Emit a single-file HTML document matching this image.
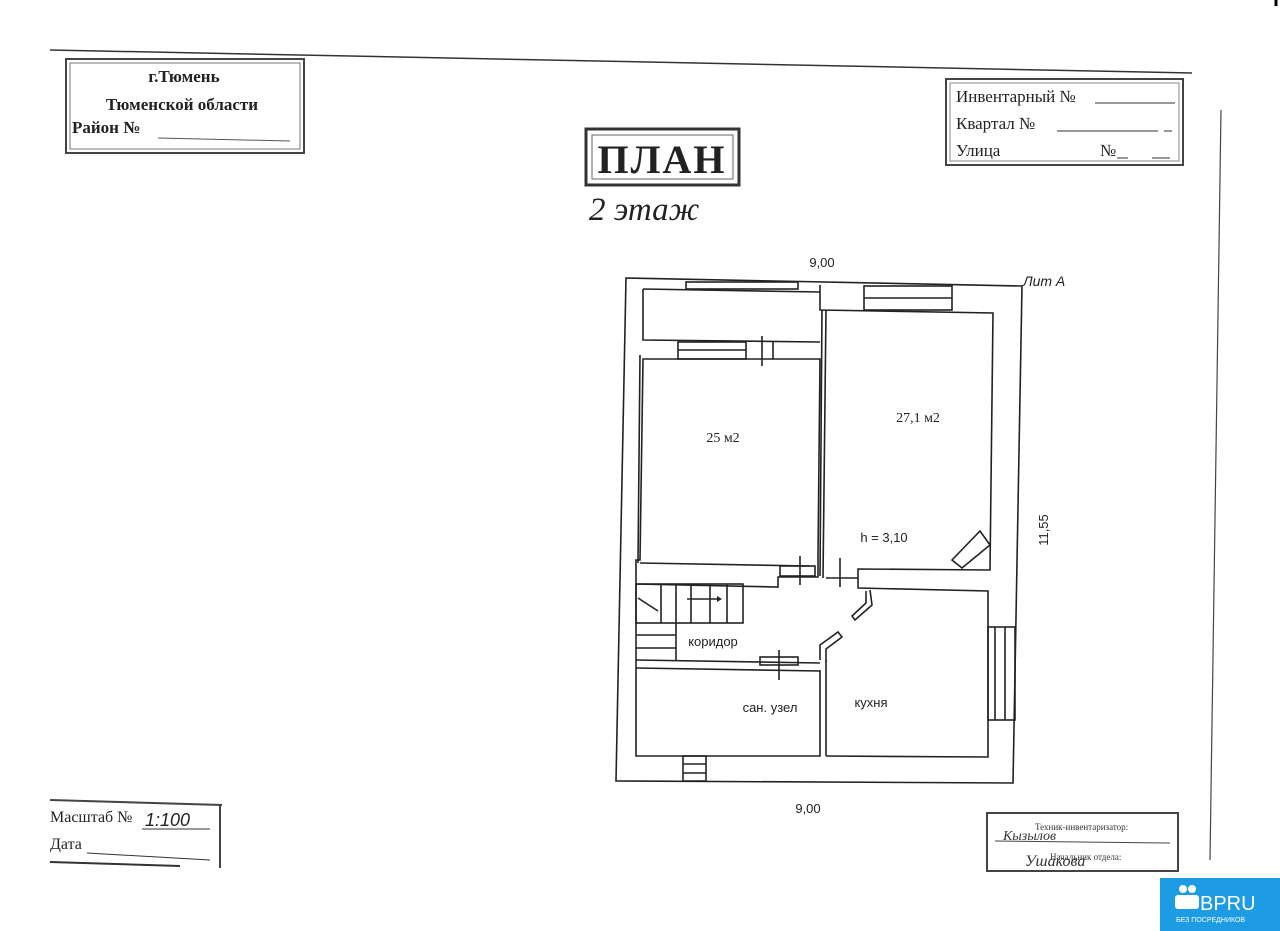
<!DOCTYPE html>
<html><head><meta charset="utf-8"><style>
html,body{margin:0;padding:0;background:#fff;}
body{width:1280px;height:931px;position:relative;overflow:hidden;}
svg{position:absolute;left:0;top:0;}
</style></head><body>
<svg width="1280" height="931" viewBox="0 0 1280 931" xmlns="http://www.w3.org/2000/svg">
<rect width="1280" height="931" fill="#fff"/>
<line x1="50" y1="50" x2="1192" y2="73" stroke="#333" stroke-width="1.5"/>
<line x1="1221" y1="110" x2="1210" y2="860" stroke="#444" stroke-width="1.2"/>
<line x1="1276" y1="0" x2="1276" y2="6" stroke="#000" stroke-width="3"/>

<g font-family="Liberation Serif, serif" font-weight="bold" fill="#222">
<rect x="66" y="59" width="238" height="94" fill="none" stroke="#444" stroke-width="2"/>
<rect x="70" y="63" width="230" height="86" fill="none" stroke="#777" stroke-width="1"/>
<text x="184" y="82" font-size="17" text-anchor="middle">г.Тюмень</text>
<text x="182" y="110" font-size="17" text-anchor="middle">Тюменской области</text>
<text x="72" y="133" font-size="17">Район №</text>
<line x1="158" y1="138" x2="290" y2="141" stroke="#555"/>
</g>

<rect x="586" y="129" width="153" height="56" fill="none" stroke="#333" stroke-width="3"/>
<rect x="592" y="135" width="141" height="44" fill="none" stroke="#666" stroke-width="1"/>
<text x="662" y="173" font-family="Liberation Serif, serif" font-weight="bold" font-size="40" text-anchor="middle" fill="#222" letter-spacing="2">ПЛАН</text>
<text x="589" y="220" font-family="Liberation Serif, serif" font-style="italic" font-size="33" fill="#222">2 этаж</text>

<g font-family="Liberation Serif, serif" fill="#222" font-size="17">
<rect x="946" y="79" width="237" height="86" fill="none" stroke="#444" stroke-width="2"/>
<rect x="950" y="83" width="229" height="78" fill="none" stroke="#888" stroke-width="1"/>
<text x="956" y="102">Инвентарный №</text>
<line x1="1095" y1="103" x2="1175" y2="103" stroke="#333"/>
<text x="956" y="129">Квартал №</text>
<line x1="1057" y1="131" x2="1158" y2="131" stroke="#333"/>
<line x1="1164" y1="131" x2="1172" y2="131" stroke="#333"/>
<text x="956" y="156">Улица</text>
<text x="1100" y="156">№</text>
<line x1="1117" y1="158" x2="1128" y2="158" stroke="#333"/>
<line x1="1152" y1="158" x2="1170" y2="158" stroke="#333"/>
</g>

<g fill="none" stroke="#222" stroke-width="1.6">
<polygon points="626,278 1022,286 1013,783 616,781"/>
<polyline points="820,285 820,310 993,313 990,570 858,569 858,588 988,591 988,757 826,756"/>
<polyline points="643,289 643,340 820,342"/>
<line x1="643" y1="289" x2="820" y2="292"/>
<rect x="686" y="282" width="112" height="7"/>
<rect x="864" y="286" width="88" height="24"/>
<line x1="864" y1="298" x2="952" y2="298"/>
<rect x="678" y="342" width="68" height="17"/>
<line x1="678" y1="350" x2="746" y2="350"/>
<line x1="762" y1="336" x2="762" y2="366"/>
<line x1="773" y1="342" x2="773" y2="359"/>
<polygon points="643,359 820,359 818,556 818,577 778,577 778,587 636,584 636,560 640,560"/>
<line x1="640" y1="355" x2="638" y2="563"/>
<line x1="640" y1="563" x2="810" y2="566"/>
<line x1="822" y1="310" x2="820" y2="576"/>
<line x1="826" y1="310" x2="823" y2="578"/>
<rect x="780" y="566" width="35" height="10"/>
<line x1="800" y1="556" x2="800" y2="585"/>
<line x1="826" y1="578" x2="858" y2="578"/>
<line x1="840" y1="558" x2="840" y2="587"/>
<polygon points="952,560 980,531 990,545 962,568"/>
<polyline points="636,584 636,668"/>
<rect x="636" y="584" width="107" height="39"/>
<line x1="661" y1="584" x2="661" y2="623"/>
<line x1="676" y1="584" x2="676" y2="660"/>
<line x1="691" y1="584" x2="691" y2="623"/>
<line x1="710" y1="584" x2="710" y2="623"/>
<line x1="727" y1="584" x2="727" y2="623"/>
<line x1="638" y1="598" x2="658" y2="611"/>
<line x1="636" y1="635" x2="676" y2="635"/>
<line x1="636" y1="648" x2="676" y2="648"/>
<line x1="636" y1="660" x2="820" y2="663"/>
<line x1="636" y1="668" x2="820" y2="671"/>
<rect x="760" y="657" width="38" height="8"/>
<line x1="779" y1="650" x2="779" y2="680"/>
<polyline points="820,670 820,756 636,756 636,668"/>
<line x1="826" y1="660" x2="826" y2="756"/>
<polyline points="820,660 820,645 838,632 842,637 826,649 826,662"/>
<polyline points="870,590 872,605 855,620 852,616 866,603 866,591"/>
<rect x="988" y="627" width="27" height="93"/>
<line x1="995" y1="627" x2="995" y2="720"/>
<line x1="1005" y1="627" x2="1005" y2="720"/>
<rect x="683" y="756" width="23" height="25"/>
<line x1="683" y1="764" x2="706" y2="764"/>
<line x1="683" y1="773" x2="706" y2="773"/>
</g>
<polyline points="687,599 717,599" stroke="#222" stroke-width="1.4"/>
<polygon points="717,596 717,602 722,599" fill="#222"/>

<g font-family="Liberation Serif, serif" font-size="14" fill="#222">
<text x="723" y="442" text-anchor="middle">25 м2</text>
<text x="918" y="422" text-anchor="middle">27,1 м2</text>
</g>
<g font-family="Liberation Sans, sans-serif" font-size="13" fill="#222">
<text x="884" y="542" text-anchor="middle">h = 3,10</text>
<text x="713" y="646" text-anchor="middle">коридор</text>
<text x="770" y="712" text-anchor="middle">сан. узел</text>
<text x="871" y="707" text-anchor="middle">кухня</text>
<text x="822" y="267" text-anchor="middle">9,00</text>
<text x="808" y="813" text-anchor="middle">9,00</text>
<text x="1048" y="530" text-anchor="middle" transform="rotate(-90 1048 530)">11,55</text>
<text x="1023" y="286" font-style="italic" font-size="14">Лит А</text>
</g>

<g font-family="Liberation Serif, serif" fill="#222" font-size="16">
<line x1="50" y1="800" x2="222" y2="805" stroke="#444" stroke-width="2"/>
<line x1="220" y1="804" x2="220" y2="868" stroke="#444" stroke-width="2"/>
<text x="50" y="822">Масштаб №</text>
<text x="145" y="826" font-style="italic" font-family="Liberation Sans, sans-serif" font-size="18">1:100</text>
<line x1="142" y1="829" x2="210" y2="829" stroke="#333"/>
<text x="50" y="849">Дата</text>
<line x1="87" y1="853" x2="210" y2="860" stroke="#333"/>
<line x1="50" y1="862" x2="180" y2="866" stroke="#333" stroke-width="2"/>
</g>

<g font-family="Liberation Serif, serif" fill="#333" font-size="9">
<rect x="987" y="813" width="191" height="58" fill="none" stroke="#444" stroke-width="2"/>
<text x="1035" y="830">Техник-инвентаризатор:</text>
<line x1="995" y1="841" x2="1170" y2="843" stroke="#444"/>
<text x="1003" y="840" font-style="italic" font-size="14">Кызылов</text>
<text x="1050" y="860">Начальник отдела:</text>
<text x="1025" y="866" font-style="italic" font-size="16">Ушакова</text>
</g>

<rect x="1160" y="878" width="120" height="53" fill="#1d9be3"/>
<circle cx="1183" cy="889" r="4" fill="#fff"/><circle cx="1192" cy="889" r="4" fill="#fff"/>
<rect x="1175" y="895" width="24" height="14" rx="3" fill="#fff"/>
<text x="1200" y="910" font-family="Liberation Sans, sans-serif" font-size="20" fill="#fff">BPRU</text>
<text x="1176" y="922" font-family="Liberation Sans, sans-serif" font-size="7" fill="#fff">БЕЗ ПОСРЕДНИКОВ</text>
</svg>
</body></html>
